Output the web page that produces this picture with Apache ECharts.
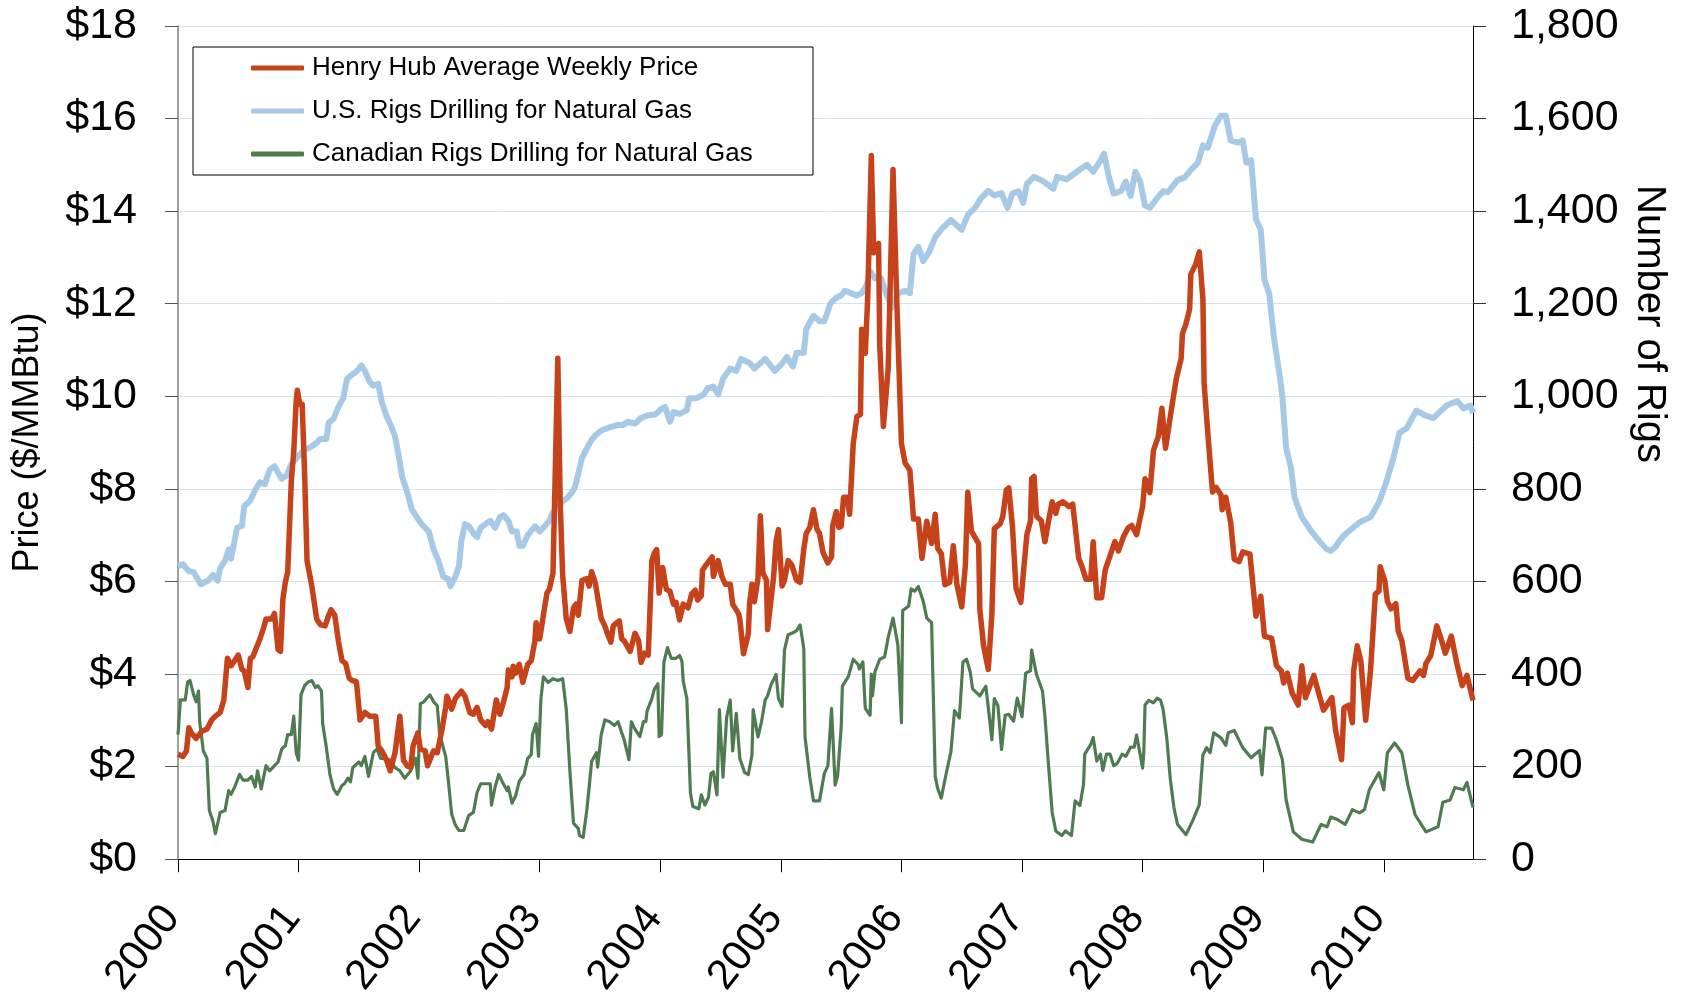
<!DOCTYPE html>
<html>
<head>
<meta charset="utf-8">
<script src="https://cdn.jsdelivr.net/npm/echarts@6/dist/echarts.min.js"></script>
<style>html,body{margin:0;padding:0;background:#fff}#c{width:1681px;height:1000px}</style>
</head>
<body>
<div id="c"></div>
<script>
// ---- data: [decimal year, value] ----
var seriesNames = ['Henry Hub Average Weekly Price', 'U.S. Rigs Drilling for Natural Gas', 'Canadian Rigs Drilling for Natural Gas'];
var yearTicks = [2000, 2001, 2002, 2003, 2004, 2005, 2006, 2007, 2008, 2009, 2010];

var henryHubPrice = [
[2000.00,2.27],[2000.04,2.22],[2000.07,2.34],[2000.09,2.84],[2000.11,2.73],[2000.15,2.61],[2000.20,2.77],[2000.24,2.81],[2000.28,3.01],[2000.31,3.09],[2000.35,3.17],[2000.38,3.44],[2000.41,4.34],[2000.44,4.18],[2000.47,4.29],[2000.50,4.41],[2000.53,4.10],[2000.55,4.06],[2000.58,3.71],[2000.60,4.34],[2000.62,4.37],[2000.65,4.57],[2000.68,4.76],[2000.71,5.00],[2000.73,5.19],[2000.78,5.19],[2000.80,5.31],[2000.83,4.53],[2000.85,4.49],[2000.87,5.62],[2000.89,5.98],[2000.91,6.21],[2000.94,8.18],[2000.96,8.80],[2000.98,9.90],[2000.99,10.13],[2001.01,9.83],[2001.03,9.83],[2001.05,8.33],[2001.07,6.45],[2001.11,5.90],[2001.15,5.19],[2001.18,5.07],[2001.22,5.04],[2001.25,5.27],[2001.27,5.39],[2001.30,5.27],[2001.33,4.72],
[2001.36,4.29],[2001.39,4.23],[2001.42,3.91],[2001.44,3.87],[2001.48,3.83],[2001.51,3.01],[2001.55,3.17],[2001.59,3.09],[2001.64,3.09],[2001.66,2.45],[2001.69,2.34],[2001.73,2.14],[2001.76,1.91],[2001.80,2.30],[2001.84,3.09],[2001.87,2.14],[2001.90,2.02],[2001.93,1.98],[2001.95,2.45],[2001.99,2.73],[2002.01,2.38],[2002.05,2.34],[2002.07,2.02],[2002.10,2.22],[2002.12,2.34],[2002.15,2.30],[2002.19,2.81],[2002.22,3.28],[2002.23,3.52],[2002.27,3.24],[2002.30,3.47],[2002.35,3.63],[2002.38,3.52],[2002.42,3.17],[2002.45,3.13],[2002.48,3.28],[2002.51,3.01],[2002.55,2.89],[2002.57,2.97],[2002.60,2.81],[2002.64,3.44],[2002.67,3.13],[2002.70,3.40],
[2002.73,3.71],[2002.74,4.09],[2002.77,3.94],[2002.78,4.17],[2002.80,4.02],[2002.83,4.21],[2002.86,3.82],[2002.90,4.21],[2002.93,4.29],[2002.96,4.72],[2002.97,5.11],[2003.00,4.76],[2003.03,5.27],[2003.06,5.75],[2003.08,5.83],[2003.11,6.18],[2003.12,6.14],[2003.15,10.82],[2003.17,7.70],[2003.19,6.14],[2003.22,5.20],[2003.25,4.92],[2003.28,5.43],[2003.30,5.51],[2003.32,5.27],[2003.35,6.02],[2003.39,6.06],[2003.41,5.90],[2003.43,6.21],[2003.46,5.98],[2003.48,5.67],[2003.51,5.20],[2003.54,5.04],[2003.56,4.88],[2003.59,4.69],[2003.61,5.04],[2003.64,5.11],[2003.66,5.15],[2003.68,4.76],[2003.70,4.72],[2003.75,4.49],[2003.79,4.88],[2003.82,4.72],[2003.84,4.25],[2003.87,4.45],[2003.90,4.41],[2003.93,6.45],[2003.95,6.61],[2003.97,6.69],[2003.99,5.75],[2004.02,6.30],[2004.05,5.83],[2004.08,5.79],[2004.11,5.51],[2004.13,5.55],
[2004.16,5.17],[2004.19,5.51],[2004.23,5.43],[2004.26,5.73],[2004.29,5.81],[2004.31,5.60],[2004.34,5.69],[2004.35,6.24],[2004.38,6.36],[2004.43,6.53],[2004.44,6.11],[2004.48,6.45],[2004.51,6.11],[2004.54,5.94],[2004.58,5.94],[2004.60,5.51],[2004.65,5.30],[2004.66,5.17],[2004.69,4.44],[2004.73,4.87],[2004.74,5.51],[2004.76,5.94],[2004.78,5.56],[2004.81,6.07],[2004.83,7.42],[2004.85,6.19],[2004.88,6.03],[2004.89,4.96],[2004.94,6.11],[2004.96,6.87],[2004.98,7.12],[2005.01,5.90],[2005.03,6.03],[2005.06,6.45],[2005.09,6.36],[2005.13,6.03],[2005.16,5.98],[2005.19,6.70],[2005.21,7.04],[2005.24,7.17],[2005.27,7.55],[2005.30,7.12],[2005.32,7.04],[2005.35,6.62],[2005.39,6.40],[2005.42,6.53],[2005.43,7.21],[2005.46,7.51],[2005.48,7.17],
[2005.50,7.19],[2005.52,7.82],[2005.55,7.82],[2005.57,7.45],[2005.60,8.98],[2005.63,9.56],[2005.66,9.61],[2005.67,11.45],[2005.70,10.93],[2005.72,12.13],[2005.75,15.20],[2005.77,13.10],[2005.81,13.30],[2005.82,11.10],[2005.85,9.35],[2005.89,10.60],[2005.93,14.90],[2005.96,12.15],[2006.00,8.98],[2006.03,8.56],[2006.07,8.40],[2006.10,7.35],[2006.14,7.35],[2006.17,6.50],[2006.21,7.30],[2006.25,6.82],[2006.28,7.45],[2006.30,6.72],[2006.33,6.60],[2006.36,5.93],[2006.40,5.98],[2006.43,6.77],[2006.46,5.93],[2006.50,5.45],[2006.53,6.35],[2006.55,7.93],[2006.58,7.09],[2006.64,6.82],[2006.65,5.40],[2006.68,4.63],[2006.72,4.10],[2006.75,5.30],[2006.77,7.14],[2006.82,7.25],[2006.84,7.40],
[2006.87,7.98],[2006.89,8.02],[2006.92,7.21],[2006.95,5.85],[2006.99,5.55],[2007.01,6.15],[2007.04,7.01],[2007.07,7.31],[2007.08,8.22],[2007.10,8.27],[2007.12,7.41],[2007.16,7.31],[2007.19,6.86],[2007.22,7.31],[2007.25,7.72],[2007.28,7.47],[2007.30,7.67],[2007.34,7.72],[2007.39,7.62],[2007.42,7.67],[2007.44,7.21],[2007.47,6.50],[2007.50,6.30],[2007.53,6.05],[2007.57,6.05],[2007.59,6.86],[2007.62,5.65],[2007.66,5.65],[2007.69,6.25],[2007.73,6.56],[2007.77,6.86],[2007.80,6.66],[2007.84,6.96],[2007.88,7.16],[2007.91,7.21],[2007.95,7.01],[2008.00,7.62],[2008.02,8.22],[2008.06,7.92],[2008.09,8.83],[2008.13,9.13],[2008.16,9.74],[2008.19,8.88],[2008.24,9.74],
[2008.28,10.39],[2008.32,10.82],[2008.33,11.35],[2008.36,11.57],[2008.39,11.89],[2008.40,12.64],[2008.44,12.85],[2008.47,13.12],[2008.50,12.10],[2008.51,10.28],[2008.55,8.89],[2008.58,7.93],[2008.61,8.03],[2008.65,7.87],[2008.66,7.55],[2008.69,7.82],[2008.73,7.28],[2008.76,6.48],[2008.80,6.43],[2008.83,6.64],[2008.89,6.59],[2008.92,5.79],[2008.94,5.25],[2008.98,5.68],[2009.01,4.82],[2009.07,4.77],[2009.11,4.18],[2009.15,4.07],[2009.17,3.81],[2009.20,4.02],[2009.24,3.59],[2009.29,3.33],
[2009.32,4.18],[2009.35,3.49],[2009.42,3.97],[2009.46,3.59],[2009.50,3.22],[2009.57,3.49],[2009.60,2.79],[2009.65,2.15],[2009.67,3.27],[2009.71,3.33],[2009.74,2.95],[2009.75,4.07],[2009.78,4.61],[2009.81,4.28],[2009.85,3.00],[2009.89,4.07],[2009.93,5.73],[2009.96,5.79],[2009.97,6.32],[2010.01,6.00],[2010.03,5.57],[2010.06,5.41],[2010.10,5.52],[2010.12,4.93],[2010.15,4.72],[2010.20,3.91],[2010.24,3.86],[2010.30,4.07],[2010.33,3.97],[2010.35,4.23],[2010.39,4.40],[2010.44,5.04],[2010.48,4.72],[2010.51,4.45],[2010.56,4.82],[2010.61,4.18],[2010.65,3.75],[2010.69,3.97],[2010.74,3.43]
];

var usRigs = [
[2000.00,633],[2000.04,637],[2000.09,622],[2000.13,620],[2000.17,602],[2000.19,594],[2000.25,602],[2000.29,614],[2000.33,602],[2000.35,629],[2000.39,645],[2000.42,669],[2000.44,649],[2000.49,716],[2000.53,720],[2000.55,763],[2000.60,775],[2000.64,798],[2000.68,814],[2000.72,810],[2000.76,841],[2000.80,849],[2000.86,822],[2000.90,829],[2000.94,853],[2001.00,872],[2001.05,884],[2001.11,892],[2001.15,900],[2001.18,908],[2001.23,908],[2001.25,943],[2001.29,951],[2001.33,977],
[2001.37,996],[2001.40,1036],[2001.44,1047],[2001.47,1051],[2001.50,1059],[2001.52,1067],[2001.55,1055],[2001.59,1031],[2001.62,1023],[2001.66,1027],[2001.69,988],[2001.73,957],[2001.77,934],[2001.80,914],[2001.83,872],[2001.86,825],[2001.90,794],[2001.94,755],[2001.98,739],[2002.02,724],[2002.08,708],[2002.12,669],[2002.16,645],[2002.20,610],[2002.24,606],[2002.26,590],[2002.30,610],[2002.33,633],[2002.35,688],[2002.38,724],[2002.41,720],[2002.45,704],[2002.48,696],[2002.51,716],[2002.55,724],[2002.59,731],[2002.63,716],[2002.67,739],[2002.70,743],
[2002.74,731],[2002.77,708],[2002.81,708],[2002.83,677],[2002.86,677],[2002.90,700],[2002.96,719],[2003.00,708],[2003.04,719],[2003.08,731],[2003.11,750],[2003.15,762],[2003.19,773],[2003.23,781],[2003.26,790],[2003.29,802],[2003.32,833],[2003.35,867],[2003.39,887],[2003.43,906],[2003.47,918],[2003.51,926],[2003.55,930],[2003.59,934],[2003.65,938],[2003.69,938],[2003.73,945],[2003.79,941],[2003.84,953],[2003.90,959],[2003.96,961],[2004.01,973],[2004.04,977],[2004.08,945],
[2004.11,966],[2004.16,962],[2004.22,970],[2004.24,996],[2004.30,996],[2004.36,1004],[2004.39,1017],[2004.44,1021],[2004.48,1004],[2004.52,1038],[2004.58,1060],[2004.63,1055],[2004.67,1081],[2004.74,1072],[2004.78,1060],[2004.87,1081],[2004.95,1055],[2005.00,1068],[2005.05,1085],[2005.10,1064],[2005.13,1094],[2005.19,1094],[2005.21,1145],[2005.27,1174],[2005.32,1162],[2005.36,1162],[2005.41,1200],[2005.46,1213],
[2005.50,1218],[2005.53,1228],[2005.58,1223],[2005.63,1218],[2005.67,1223],[2005.71,1239],[2005.74,1270],[2005.78,1255],[2005.83,1255],[2005.88,1218],[2005.92,1192],[2005.97,1223],[2006.03,1228],[2006.07,1223],[2006.10,1307],[2006.14,1323],[2006.18,1292],[2006.23,1312],[2006.28,1344],[2006.33,1360],[2006.41,1381],[2006.50,1360],[2006.55,1392],[2006.61,1407],[2006.66,1428],[2006.72,1444],[2006.77,1434],[2006.83,1439],
[2006.88,1407],[2006.92,1438],[2006.97,1443],[2007.01,1418],[2007.04,1459],[2007.10,1474],[2007.18,1464],[2007.26,1448],[2007.29,1474],[2007.37,1469],[2007.48,1490],[2007.54,1500],[2007.59,1485],[2007.65,1509],[2007.68,1524],[2007.72,1474],[2007.76,1438],[2007.82,1443],[2007.86,1464],[2007.90,1433],[2007.94,1485],[2007.98,1464],[2008.02,1412],[2008.06,1407],[2008.12,1428],[2008.17,1443],
[2008.21,1441],[2008.29,1467],[2008.35,1473],[2008.40,1489],[2008.46,1505],[2008.50,1542],[2008.54,1537],[2008.60,1585],[2008.65,1606],[2008.69,1606],[2008.73,1553],[2008.79,1548],[2008.83,1553],[2008.86,1505],[2008.90,1510],[2008.92,1446],[2008.94,1382],[2008.98,1360],[2009.01,1253],[2009.05,1221],[2009.09,1125],[2009.14,1039],[2009.16,996],[2009.19,889],[2009.23,846],[2009.26,782],[2009.32,739],[2009.40,708],[2009.45,692],[2009.52,671],
[2009.56,666],[2009.60,675],[2009.64,690],[2009.68,702],[2009.80,728],[2009.89,739],[2009.96,771],[2010.02,814],[2010.08,867],[2010.13,921],[2010.19,931],[2010.27,969],[2010.35,958],[2010.41,953],[2010.52,980],[2010.61,990],[2010.66,974],[2010.72,980],[2010.74,964]
];

var canadianRigs = [
[2000.00,269],[2000.02,344],[2000.06,344],[2000.08,383],[2000.10,386],[2000.13,355],[2000.15,340],[2000.17,363],[2000.18,297],[2000.21,234],[2000.24,218],[2000.26,105],[2000.29,82],[2000.31,55],[2000.35,101],[2000.39,105],[2000.42,148],[2000.44,140],[2000.47,156],[2000.51,183],[2000.54,171],[2000.58,171],[2000.61,179],[2000.64,156],[2000.66,191],[2000.69,152],[2000.73,202],[2000.76,191],[2000.80,202],[2000.83,210],[2000.86,238],[2000.89,245],[2000.91,269],[2000.94,269],[2000.96,309],[2000.98,230],[2001.00,214],[2001.02,355],[2001.05,375],[2001.08,383],[2001.11,386],[2001.14,371],[2001.16,375],[2001.19,363],[2001.20,293],[2001.23,242],[2001.26,183],[2001.29,152],[2001.32,140],[2001.36,159],[2001.38,163],
[2001.41,175],[2001.43,167],[2001.45,198],[2001.50,210],[2001.52,202],[2001.55,222],[2001.58,179],[2001.62,230],[2001.65,238],[2001.68,218],[2001.72,218],[2001.76,214],[2001.80,198],[2001.84,191],[2001.88,175],[2001.93,191],[2001.97,218],[2001.99,175],[2002.01,336],[2002.04,340],[2002.06,347],[2002.09,355],[2002.12,340],[2002.15,332],[2002.17,269],[2002.22,222],[2002.24,175],[2002.27,97],[2002.30,74],[2002.33,62],[2002.37,62],[2002.41,94],[2002.45,101],[2002.48,144],[2002.51,163],[2002.55,163],[2002.59,163],[2002.60,117],[2002.63,156],[2002.66,183],[2002.69,167],[2002.73,148],
[2002.74,156],[2002.77,121],[2002.80,137],[2002.83,168],[2002.87,183],[2002.90,218],[2002.93,226],[2002.94,269],[2002.97,293],[2002.99,222],[2003.01,347],[2003.03,394],[2003.07,382],[2003.11,390],[2003.15,386],[2003.19,390],[2003.22,324],[2003.25,191],[2003.28,78],[2003.32,66],[2003.33,51],[2003.36,47],[2003.39,105],[2003.41,156],[2003.43,211],[2003.47,230],[2003.48,199],[2003.51,269],[2003.54,301],[2003.58,297],[2003.62,289],[2003.65,297],[2003.68,273],[2003.70,258],[2003.74,215],[2003.76,297],[2003.79,281],[2003.83,265],[2003.86,297],[2003.88,297],[2003.89,320],[2003.93,347],[2003.95,367],[2003.98,379],[2003.99,265],[2004.01,269],[2004.03,426],[2004.06,457],[2004.09,434],[2004.13,434],
[2004.16,440],[2004.18,427],[2004.19,385],[2004.22,347],[2004.25,143],[2004.27,114],[2004.32,109],[2004.34,139],[2004.37,117],[2004.40,134],[2004.42,185],[2004.44,189],[2004.47,139],[2004.49,323],[2004.52,177],[2004.55,306],[2004.58,344],[2004.60,234],[2004.63,315],[2004.66,217],[2004.70,187],[2004.73,183],[2004.76,225],[2004.77,323],[2004.78,323],[2004.81,264],[2004.84,298],[2004.87,344],[2004.89,353],[2004.92,378],[2004.96,399],[2004.98,347],[2005.01,330],[2005.03,452],[2005.06,485],[2005.10,489],[2005.13,494],[2005.16,506],[2005.19,455],[2005.20,264],[2005.24,177],[2005.27,126],[2005.32,126],[2005.36,185],[2005.39,202],[2005.42,326],[2005.45,160],
[2005.47,179],[2005.50,284],[2005.51,374],[2005.56,395],[2005.60,432],[2005.64,421],[2005.65,411],[2005.68,426],[2005.70,326],[2005.74,311],[2005.75,400],[2005.76,353],[2005.78,405],[2005.82,432],[2005.86,437],[2005.89,479],[2005.93,521],[2005.97,463],[2006.00,295],[2006.01,537],[2006.06,547],[2006.08,584],[2006.11,579],[2006.14,589],[2006.18,558],[2006.21,521],[2006.25,511],[2006.28,179],[2006.30,153],[2006.33,132],[2006.37,184],[2006.41,232],[2006.44,321],[2006.48,305],[2006.51,426],[2006.54,432],[2006.57,405],[2006.59,368],[2006.65,353],[2006.70,374],[2006.75,258],[2006.77,347],[2006.80,332],[2006.83,237],[2006.86,311],
[2006.89,313],[2006.93,298],[2006.96,348],[2007.00,308],[2007.03,402],[2007.07,407],[2007.08,452],[2007.12,399],[2007.17,363],[2007.19,308],[2007.22,202],[2007.25,101],[2007.28,61],[2007.33,51],[2007.36,61],[2007.41,51],[2007.44,126],[2007.48,116],[2007.51,162],[2007.52,227],[2007.57,248],[2007.59,263],[2007.62,212],[2007.65,227],[2007.67,192],[2007.70,227],[2007.73,227],[2007.76,202],[2007.79,207],[2007.83,227],[2007.86,222],[2007.90,242],[2007.93,242],[2007.95,268],[2008.00,197],[2008.01,232],[2008.02,333],[2008.05,343],[2008.09,338],[2008.12,348],[2008.15,343],[2008.17,323],[2008.20,263],[2008.23,172],[2008.26,111],
[2008.29,75],[2008.36,53],[2008.42,86],[2008.47,118],[2008.50,225],[2008.53,241],[2008.56,230],[2008.59,273],[2008.65,262],[2008.69,246],[2008.71,273],[2008.76,278],[2008.83,241],[2008.90,219],[2008.97,235],[2008.99,182],[2009.02,283],[2009.07,283],[2009.11,257],[2009.16,214],[2009.19,128],[2009.25,59],[2009.32,43],[2009.41,37],[2009.48,75],
[2009.53,70],[2009.56,91],[2009.62,85],[2009.68,75],[2009.74,107],[2009.80,100],[2009.84,107],[2009.88,150],[2009.96,187],[2010.00,150],[2010.03,230],[2010.09,251],[2010.15,230],[2010.20,160],[2010.26,96],[2010.35,59],[2010.45,70],[2010.49,123],[2010.55,128],[2010.59,155],[2010.66,150],[2010.69,166],[2010.74,112]
];

var FONT = "'Liberation Sans', Arial, sans-serif";
var chart = echarts.init(document.getElementById('c'), null, {renderer: 'canvas'});
chart.setOption({
  animation: false,
  backgroundColor: '#ffffff',
  grid: {left: 178, right: 208, top: 26, bottom: 139, containLabel: false},
  xAxis: {
    type: 'value', min: yearTicks[0], max: 2010.74, interval: 1,
    axisLine: {show: true, lineStyle: {color: '#000', width: 1}},
    axisTick: {show: true, length: 13, lineStyle: {color: '#000'}},
    splitLine: {show: false},
    axisLabel: {
      rotate: 52, fontSize: 42, margin: 44, color: '#000', fontFamily: FONT,
      padding: [0, 10, 0, 0],
      showMaxLabel: false,
      formatter: function (v) { return yearTicks.indexOf(Math.round(v * 100) / 100) >= 0 ? String(v) : ''; }
    }
  },
  yAxis: [{
    type: 'value', position: 'left', min: 0, max: 18, interval: 2,
    name: 'Price ($/MMBtu)', nameLocation: 'middle', nameGap: 132,
    nameTextStyle: {fontSize: 36, color: '#000', fontFamily: FONT},
    axisLine: {show: true, lineStyle: {color: '#808080', width: 1.5}},
    axisTick: {show: true, length: 13, lineStyle: {color: '#555'}},
    splitLine: {show: true, lineStyle: {color: '#D3E2E6', width: 1}},
    axisLabel: {fontSize: 43, margin: 41, color: '#000', fontFamily: FONT,
      formatter: function (v) { return '$' + v; }}
  }, {
    type: 'value', position: 'right', min: 0, max: 1800, interval: 200,
    axisLine: {show: true, lineStyle: {color: '#000', width: 1}},
    axisTick: {show: true, length: 13, lineStyle: {color: '#333'}},
    splitLine: {show: false},
    axisLabel: {fontSize: 43, margin: 38, color: '#000', fontFamily: FONT,
      formatter: function (v) { return v >= 1000 ? Math.floor(v / 1000) + ',' + String(v % 1000).padStart(3, '0') : String(v); }}
  }],
  legend: {
    orient: 'vertical', left: 251, top: 54, padding: 0, itemGap: 15,
    itemWidth: 53, itemHeight: 5, icon: 'roundRect', selectedMode: false,
    textStyle: {fontSize: 26, lineHeight: 28, color: '#000', fontFamily: FONT, padding: [0, 0, 0, 3]},
    data: seriesNames
  },
  graphic: [{
    type: 'rect', z: 3, shape: {x: 193, y: 47, width: 620, height: 128},
    style: {fill: '#fff', stroke: '#000', lineWidth: 1}
  }, {
    type: 'text', z: 5, x: 1649, y: 324, rotation: -Math.PI / 2,
    style: {text: 'Number of Rigs', fontSize: 40, fontFamily: FONT, fill: '#000', align: 'center', verticalAlign: 'middle'}
  }],
  series: [{
    name: seriesNames[1], type: 'line', yAxisIndex: 1, data: usRigs,
    showSymbol: false, symbol: 'none', color: '#A6C9E7',
    lineStyle: {color: '#A6C9E7', width: 6, join: 'round'}, z: 2
  }, {
    name: seriesNames[2], type: 'line', yAxisIndex: 1, data: canadianRigs,
    showSymbol: false, symbol: 'none', color: '#4F7B51',
    lineStyle: {color: '#4F7B51', width: 3.2, join: 'round'}, z: 3
  }, {
    name: seriesNames[0], type: 'line', yAxisIndex: 0, data: henryHubPrice,
    showSymbol: false, symbol: 'none', color: '#C5421A',
    lineStyle: {color: '#C5421A', width: 5.5, join: 'round'}, z: 4
  }]
});
</script>
</body>
</html>
